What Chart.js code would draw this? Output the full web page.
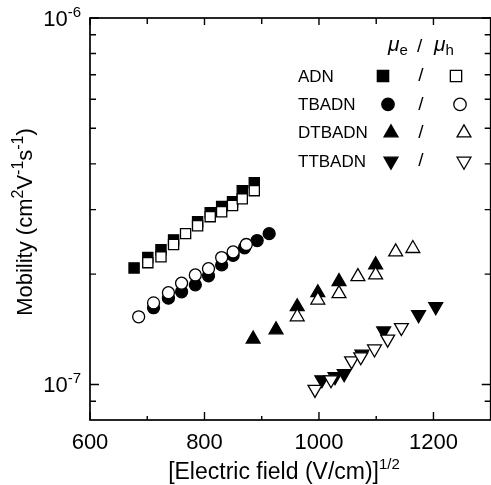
<!DOCTYPE html>
<html lang="en">
<head>
    <meta charset="UTF-8">
    <title>Mobility vs field</title>
    <script src="https://cdn.jsdelivr.net/npm/chart.js"></script>
    <style>
        html, body {
            margin: 0;
            padding: 0;
            background: #fff;
            overflow: hidden;
        }
        .chart-box {
            position: relative;
            width: 500px;
            height: 485px;
        }
    </style>
</head>
<body>
    <div class="chart-box">
        <canvas id="mobChart" width="500" height="485"></canvas>
    </div>

<script>
// field in (V/cm)^1/2, mobility in units of 1e-7 cm2/Vs
const adnFieldE = [677, 701, 724, 746, 788, 810, 830, 849, 866, 887];
const adnMuE    = [2.08, 2.22, 2.33, 2.48, 2.78, 2.94, 3.06, 3.15, 3.38, 3.55];
const adnFieldH = [701, 724, 746, 767, 788, 810, 830, 849, 866, 887];
const adnMuH    = [2.15, 2.23, 2.41, 2.58, 2.71, 2.87, 2.96, 3.08, 3.21, 3.38];

const tbadnFieldE = [711, 737, 760, 784, 807, 830, 850, 870, 892, 913];
const tbadnMuE    = [1.62, 1.72, 1.79, 1.87, 1.98, 2.12, 2.25, 2.36, 2.47, 2.58];
const tbadnFieldH = [685, 711, 737, 760, 784, 807, 830, 850, 873];
const tbadnMuH    = [1.53, 1.67, 1.78, 1.89, 1.99, 2.07, 2.22, 2.30, 2.41];

const dtbadnFieldE = [885, 925, 962, 998, 1035, 1099];
const dtbadnMuE    = [1.33, 1.41, 1.63, 1.78, 1.91, 2.12];
const dtbadnFieldH = [962, 998, 1035, 1068, 1099, 1134, 1164];
const dtbadnMuH    = [1.53, 1.70, 1.77, 1.97, 1.99, 2.30, 2.35];

const ttbadnFieldE = [1005, 1028, 1044, 1075, 1113, 1174, 1204];
const ttbadnMuE    = [1.03, 1.05, 1.07, 1.21, 1.40, 1.55, 1.63];
const ttbadnFieldH = [993, 1021, 1057, 1073, 1097, 1120, 1144];
const ttbadnMuH    = [0.97, 1.03, 1.16, 1.19, 1.25, 1.33, 1.43];

const xTickValues = [600, 800, 1000, 1200];
const xMinorValues = [700, 900, 1100, 1300];
const yTickValues = [1e-7, 1e-6];
const yTickExps = ['-7', '-6'];
const yMinorValues = [9e-8, 2e-7, 3e-7, 4e-7, 5e-7, 6e-7, 7e-7, 8e-7, 9e-7];

const materials = ['ADN', 'TBADN', 'DTBADN', 'TTBADN'];

const FONT = '"Liberation Sans", Arial, sans-serif';

function pts(xs, ys) {
    return xs.map((x, i) => ({x: x, y: ys[i] * 1e-7}));
}

function ds(label, xs, ys, style, filled, rot, radius, order) {
    return {
        label: label,
        data: pts(xs, ys),
        pointStyle: style,
        rotation: rot,
        pointRadius: radius,
        pointBackgroundColor: filled ? '#000' : '#fff',
        pointBorderColor: '#000',
        pointBorderWidth: 1.3,
        showLine: false,
        order: order
    };
}

// little marker drawer for the legend block
function marker(ctx, style, x, y, r, filled, rot) {
    ctx.save();
    ctx.beginPath();
    if (style === 'rect') {
        const s = r * Math.SQRT1_2;
        ctx.rect(x - s, y - s, 2 * s, 2 * s);
    } else if (style === 'circle') {
        ctx.arc(x, y, r, 0, Math.PI * 2);
    } else {
        const dir = rot ? -1 : 1;
        ctx.moveTo(x, y - dir * r);
        ctx.lineTo(x + r * 0.866, y + dir * r / 2);
        ctx.lineTo(x - r * 0.866, y + dir * r / 2);
        ctx.closePath();
    }
    ctx.fillStyle = filled ? '#000' : '#fff';
    ctx.fill();
    ctx.lineWidth = 1.3;
    ctx.strokeStyle = '#000';
    ctx.stroke();
    ctx.restore();
}

// draws runs of [text, size, dy, italic]
function richText(ctx, parts, x, y, align) {
    let total = 0;
    parts.forEach(p => {
        ctx.font = (p[3] ? 'italic ' : '') + p[1] + 'px ' + FONT;
        p.w = ctx.measureText(p[0]).width;
        total += p.w;
    });
    let cx = align === 'right' ? x - total : align === 'center' ? x - total / 2 : x;
    ctx.textAlign = 'left';
    ctx.textBaseline = 'alphabetic';
    parts.forEach(p => {
        ctx.font = (p[3] ? 'italic ' : '') + p[1] + 'px ' + FONT;
        ctx.fillText(p[0], cx, y + p[2]);
        cx += p.w;
    });
}

const framePlugin = {
    id: 'frame',
    afterDraw(chart) {
        const ctx = chart.ctx;
        const a = chart.chartArea;
        const xs = chart.scales.x, ys = chart.scales.y;
        ctx.save();
        ctx.strokeStyle = '#000';
        ctx.fillStyle = '#000';
        ctx.lineWidth = 1.7;
        ctx.strokeRect(a.left, a.top, a.right - a.left, a.bottom - a.top);

        ctx.lineWidth = 1.4;
        ctx.beginPath();
        xTickValues.forEach(v => {
            const px = xs.getPixelForValue(v);
            ctx.moveTo(px, a.bottom); ctx.lineTo(px, a.bottom - 8);
            ctx.moveTo(px, a.top); ctx.lineTo(px, a.top + 7);
        });
        xMinorValues.forEach(v => {
            const px = xs.getPixelForValue(v);
            ctx.moveTo(px, a.bottom); ctx.lineTo(px, a.bottom - 4);
            ctx.moveTo(px, a.top); ctx.lineTo(px, a.top + 6);
        });
        yTickValues.forEach(v => {
            const py = ys.getPixelForValue(v);
            ctx.moveTo(a.left, py); ctx.lineTo(a.left + 9, py);
            ctx.moveTo(a.right, py); ctx.lineTo(a.right - 9, py);
        });
        yMinorValues.forEach(v => {
            const py = ys.getPixelForValue(v);
            ctx.moveTo(a.left, py); ctx.lineTo(a.left + 6, py);
            ctx.moveTo(a.right, py); ctx.lineTo(a.right - 6, py);
        });
        ctx.stroke();

        // x tick labels
        ctx.font = '22px ' + FONT;
        ctx.textAlign = 'center';
        ctx.textBaseline = 'middle';
        xTickValues.forEach(v => {
            ctx.fillText(String(v), xs.getPixelForValue(v), a.bottom + 23);
        });

        // y tick labels with superscript exponent
        yTickValues.forEach((v, i) => {
            const py = ys.getPixelForValue(v);
            richText(ctx, [['10', 22, 0], [yTickExps[i], 15, -9]], a.left - 9, py + 8, 'right');
        });

        // axis titles
        richText(ctx, [['[Electric field (V/cm)]', 23, 0], ['1/2', 15, -10]], 284, 479, 'center');
        ctx.save();
        ctx.translate(32, 222);
        ctx.rotate(-Math.PI / 2);
        richText(ctx, [['Mobility (cm', 22, 0], ['2', 16, -9], ['V', 22, 0], ['-1', 16, -9],
                       ['s', 22, 0], ['-1', 16, -9], [')', 22, 0]], 0, 0, 'center');
        ctx.restore();

        // legend block
        richText(ctx, [['\u03bc', 21, 0, true], ['e', 15, 4]], 388, 51, 'left');
        richText(ctx, [['/', 19, 0]], 417, 52, 'left');
        richText(ctx, [['\u03bc', 21, 0, true], ['h', 15, 4]], 434, 51, 'left');

        const styles = [['rect', 0, 8], ['circle', 0, 6.2], ['triangle', 0, 8], ['triangle', 180, 8]];
        materials.forEach((m, i) => {
            const yy = 76 + i * 28.4;
            ctx.font = '17px ' + FONT;
            ctx.textAlign = 'left';
            ctx.textBaseline = 'middle';
            ctx.fillText(m, 298, yy + 1);
            const st = styles[i];
            const fx = i === 0 ? 383 : i === 1 ? 388 : 391;
            const ox = i === 0 ? 456 : i === 1 ? 460 : 464;
            marker(ctx, st[0], fx, yy, st[2], true, st[1]);
            ctx.font = '19px ' + FONT;
            ctx.textAlign = 'center';
            ctx.fillText('/', 421, yy);
            marker(ctx, st[0], ox, yy, st[2], false, st[1]);
        });
        ctx.restore();
    }
};

new Chart(document.getElementById('mobChart'), {
    type: 'scatter',
    data: {
        datasets: [
            ds('ADN e', adnFieldE, adnMuE, 'rect', true, 0, 7.2, 2),
            ds('ADN h', adnFieldH, adnMuH, 'rect', false, 0, 7.2, 1),
            ds('TBADN e', tbadnFieldE, tbadnMuE, 'circle', true, 0, 6, 2),
            ds('TBADN h', tbadnFieldH, tbadnMuH, 'circle', false, 0, 6, 1),
            ds('DTBADN e', dtbadnFieldE, dtbadnMuE, 'triangle', true, 0, 8, 2),
            ds('DTBADN h', dtbadnFieldH, dtbadnMuH, 'triangle', false, 0, 8, 1),
            ds('TTBADN e', ttbadnFieldE, ttbadnMuE, 'triangle', true, 180, 8, 2),
            ds('TTBADN h', ttbadnFieldH, ttbadnMuH, 'triangle', false, 180, 8, 1)
        ]
    },
    options: {
        responsive: false,
        animation: false,
        layout: {padding: {left: 90, top: 18, right: 7.5, bottom: 65}},
        scales: {
            x: {type: 'linear', min: 600, max: 1300, display: false},
            y: {type: 'logarithmic', min: 8e-8, max: 1e-6, display: false}
        },
        plugins: {
            legend: {display: false},
            tooltip: {enabled: false}
        }
    },
    plugins: [framePlugin]
});
</script>
</body>
</html>
